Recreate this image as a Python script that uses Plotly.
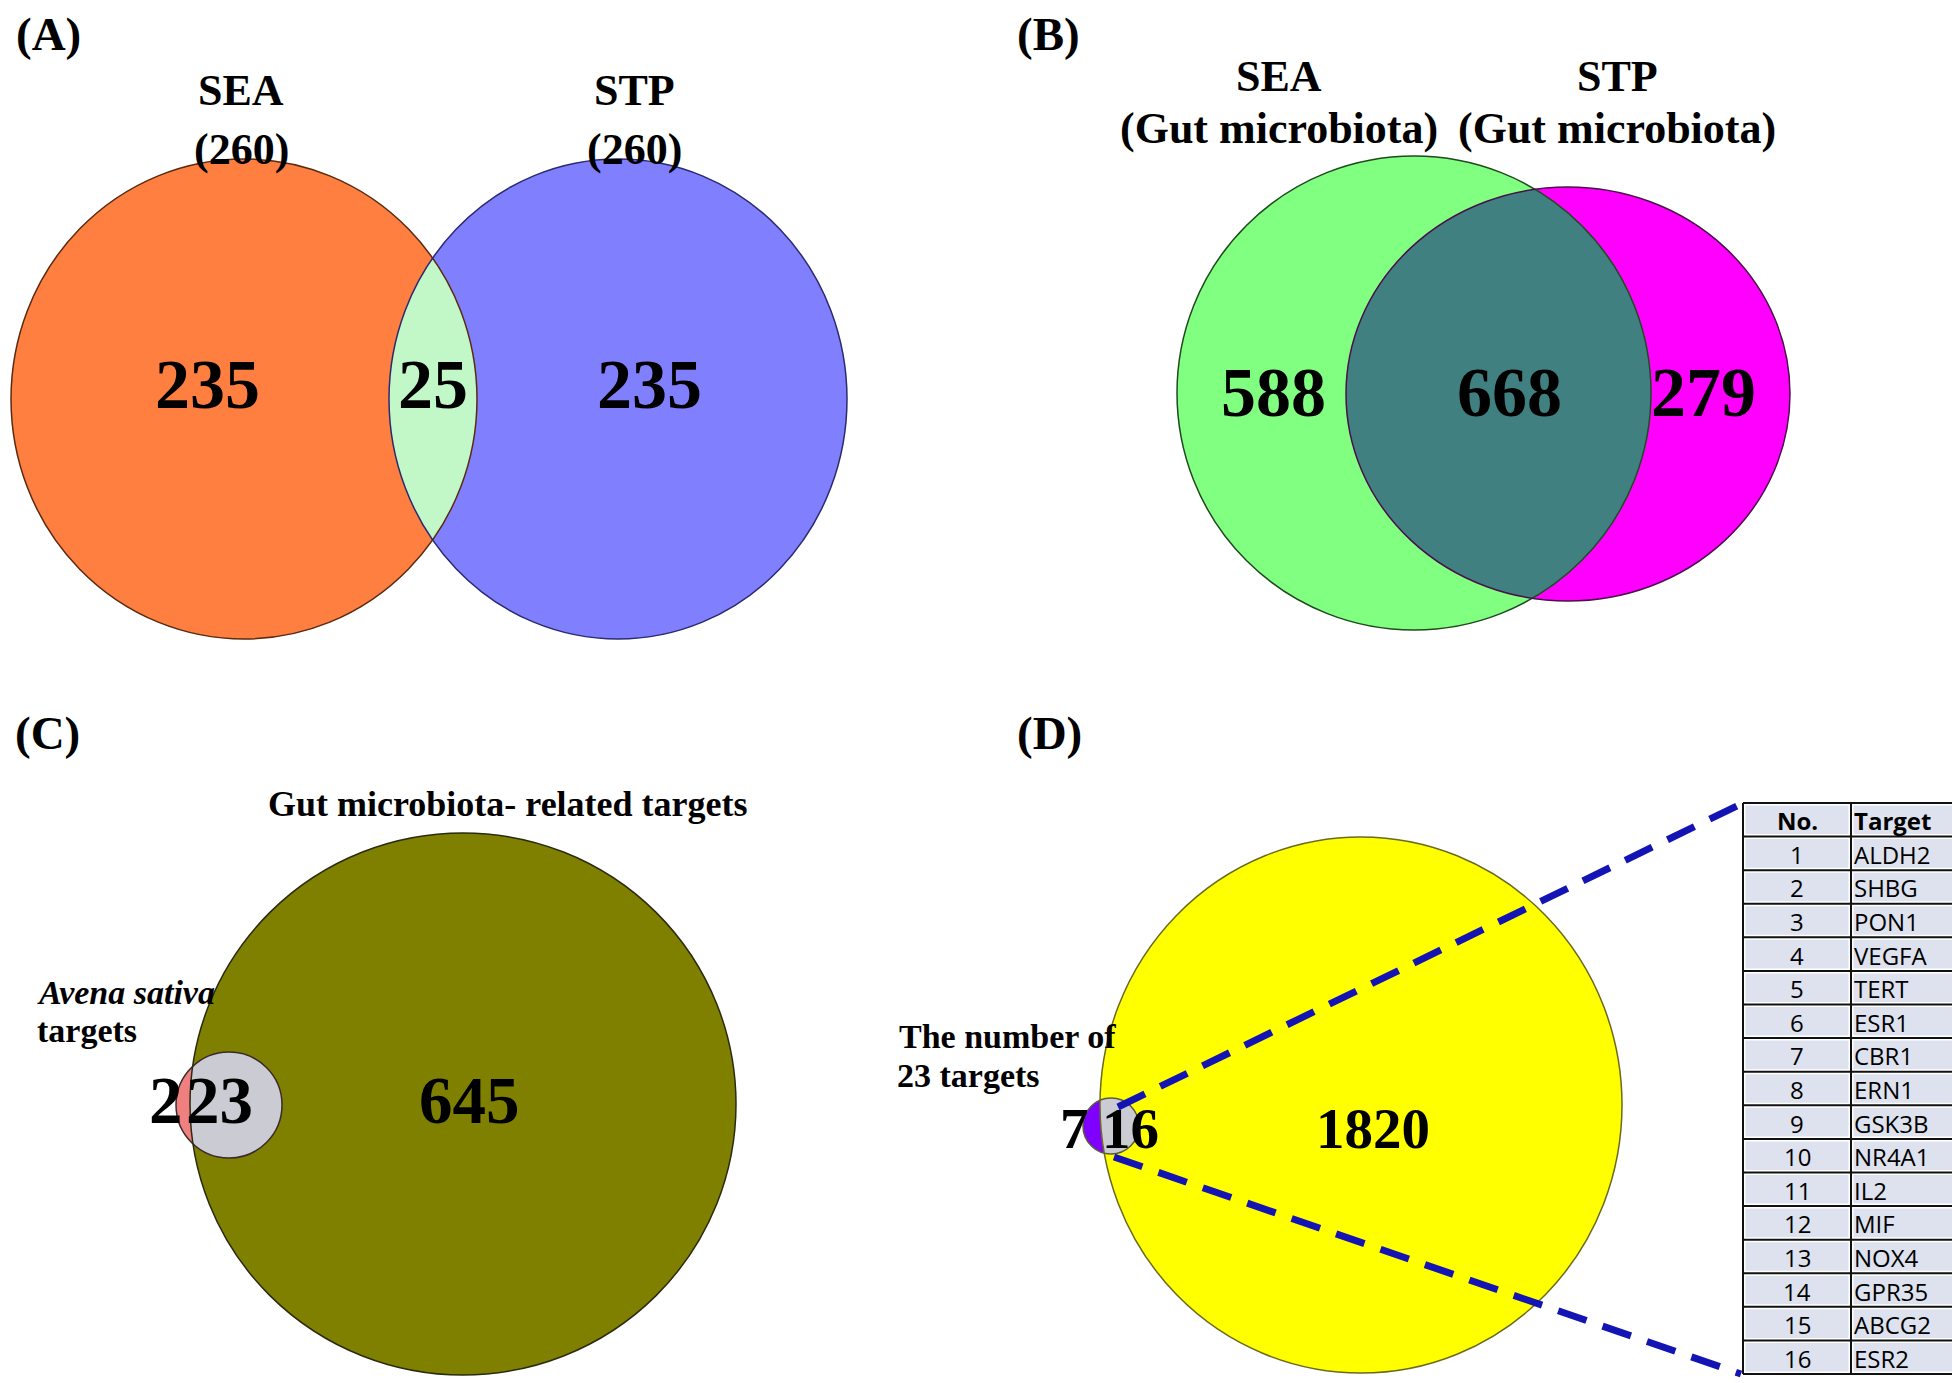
import numpy as np
import plotly.graph_objects as go

W, H = 1960, 1383

# ---------------- data ----------------
panel_letters = ["(A)", "(B)", "(C)", "(D)"]

a_sets = ["SEA", "STP"]
a_totals = [260, 260]
a_counts = [235, 25, 235]          # SEA only, shared, STP only

b_sets = ["SEA", "STP"]
b_sub = "(Gut microbiota)"
b_counts = [588, 668, 279]         # SEA only, shared, STP only

c_small_label = ["Avena sativa", "targets"]
c_big_label = "Gut microbiota- related targets"
c_counts = [2, 23, 645]            # Avena only, shared, gut only

d_label = ["The number of", "23 targets"]
d_counts = [7, 16, 1820]           # only, shared, other

table_header = ["No.", "Target"]
table_no = [1, 2, 3, 4, 5, 6, 7, 8, 9, 10, 11, 12, 13, 14, 15, 16]
table_target = ["ALDH2", "SHBG", "PON1", "VEGFA", "TERT", "ESR1", "CBR1", "ERN1",
                "GSK3B", "NR4A1", "IL2", "MIF", "NOX4", "GPR35", "ABCG2", "ESR2"]

# ---------------- layout geometry (pixels) ----------------
SERIF = "Liberation Serif"
SANS = "Open Sans"

# each set drawn as an ellipse: (cx, cy, rx, ry)
panels = {
    "A": dict(e1=(236, 391, 233, 240), e2=(610, 391, 229, 240),
              col1="#ff7f40", col2="#8080ff", lens="#c2f7c8",
              line1="#5a2a10", line2="#2a2a70",
              num_x=[199, 425, 641], num_y=376, num_size=70),
    "B": dict(e1=(1406, 385, 237, 237), e2=(1560, 386, 222, 207),
              col1="#80ff80", col2="#ff00ff", lens="#408080",
              line1="#1e4a1e", line2="#4a104a",
              num_x=[1265, 1501, 1695], num_y=384, num_size=70),
    "C": dict(e1=(221, 1097, 53, 53), e2=(455, 1096, 273, 271),
              col1="#f07f7f", col2="#808000", lens="#cbcbd3",
              line1="#3a2a2a", line2="#2a2a10",
              num_x=[158, 211, 461], num_y=1092, num_size=67),
    "D": dict(e1=(1103, 1118, 28, 28), e2=(1353, 1097, 261, 268),
              col1="#8000ff", col2="#ffff00", lens="#cbcbd3",
              line1="#5a5a40", line2="#6a6a20",
              num_x=[1066, 1122, 1365], num_y=1120, num_size=57),
}


def ell_pts(e, n=720):
    cx, cy, rx, ry = e
    t = np.linspace(0, 2 * np.pi, n, endpoint=False)
    return cx + rx * np.cos(t), cy + ry * np.sin(t)


def inside(x, y, e):
    cx, cy, rx, ry = e
    return ((x - cx) / rx) ** 2 + ((y - cy) / ry) ** 2 <= 1.0


def lens_path(e1, e2):
    x1, y1 = ell_pts(e1)
    x2, y2 = ell_pts(e2)
    m1 = inside(x1, y1, e2)
    m2 = inside(x2, y2, e1)
    xs = np.concatenate([x1[m1], x2[m2]])
    ys = np.concatenate([y1[m1], y2[m2]])
    mx, my = xs.mean(), ys.mean()
    order = np.argsort(np.arctan2(ys - my, xs - mx))
    xs, ys = xs[order], ys[order]
    pts = [f"{x:.2f},{y:.2f}" for x, y in zip(xs, ys)]
    return "M " + " L ".join(pts) + " Z"


shapes = []
annotations = []


def ellipse(e, fill=None, line=None, width=1.5):
    cx, cy, rx, ry = e
    shapes.append(dict(type="circle", xref="x", yref="y",
                       x0=cx - rx, x1=cx + rx, y0=cy - ry, y1=cy + ry,
                       fillcolor=fill if fill else "rgba(0,0,0,0)",
                       line=dict(color=line if line else "rgba(0,0,0,0)", width=width if line else 0),
                       layer="above"))


def txt(x, y, s, size, xanchor="center", family=SERIF):
    annotations.append(dict(x=x, y=y, xref="x", yref="y", text=s, showarrow=False,
                            font=dict(family=family, size=size, color="black"),
                            xanchor=xanchor, yanchor="middle"))


for key, p in panels.items():
    ellipse(p["e1"], fill=p["col1"])
    ellipse(p["e2"], fill=p["col2"])
    shapes.append(dict(type="path", xref="x", yref="y",
                       path=lens_path(p["e1"], p["e2"]),
                       fillcolor=p["lens"], line=dict(width=0), layer="above"))
    ellipse(p["e1"], line=p["line1"], width=1.5)
    ellipse(p["e2"], line=p["line2"], width=1.5)

# ---------------- table (panel D) ----------------
tx0, tdiv, tx1 = 1735, 1843, 1957
ty0, ty1 = 795, 1366
nrows = len(table_no) + 1
rh = (ty1 - ty0) / nrows
rows = [table_header] + [[str(n), t] for n, t in zip(table_no, table_target)]
for i, (c1v, c2v) in enumerate(rows):
    yt = ty0 + i * rh
    for (xa, xb) in [(tx0, tdiv), (tdiv, tx1)]:
        shapes.append(dict(type="rect", xref="x", yref="y", x0=xa + 1, x1=xb - 1,
                           y0=yt + 1, y1=yt + rh - 1, fillcolor="#dde2ee",
                           line=dict(color="white", width=3), layer="above"))
    bold = (i == 0)
    s1 = f"<b>{c1v}</b>" if bold else c1v
    s2 = f"<b>{c2v}</b>" if bold else c2v
    txt((tx0 + tdiv) / 2, yt + rh / 2 + 1, s1, 24, family=SANS)
    txt(tdiv + 1, yt + rh / 2 + 1, s2, 24, xanchor="left", family=SANS)
for i in range(nrows + 1):
    yl = ty0 + i * rh
    shapes.append(dict(type="line", xref="x", yref="y", x0=tx0, x1=tx1, y0=yl, y1=yl,
                       line=dict(color="#111111", width=2), layer="above"))
for xl in [tx0, tdiv, tx1]:
    shapes.append(dict(type="line", xref="x", yref="y", x0=xl, x1=xl, y0=ty0, y1=ty1,
                       line=dict(color="#111111", width=2), layer="above"))

# dashed connector lines (panel D -> table)
for (x0, y0, x1, y1) in [(1110, 1099, tx0, ty0), (1106, 1149, tx0 - 2, ty1)]:
    shapes.append(dict(type="line", xref="x", yref="y", x0=x0, y0=y0, x1=x1, y1=y1,
                       line=dict(color="#1414b4", width=7, dash="30px,17px"), layer="above"))

# ---------------- texts ----------------
for key, counts in zip(["A", "B", "C", "D"], [a_counts, b_counts, c_counts, d_counts]):
    p = panels[key]
    for x, v in zip(p["num_x"], counts):
        txt(x, p["num_y"], f"<b>{v}</b>", p["num_size"])

for s, (x, y) in zip(panel_letters, [(40, 26), (1040, 26), (39, 725), (1041, 725)]):
    txt(x, y, f"<b>{s}</b>", 47)

for name, tot, x in zip(a_sets, a_totals, [233, 626]):
    txt(x, 82, f"<b>{name}</b>", 44)
    txt(x, 141, f"<b>({tot})</b>", 44)

for name, x in zip(b_sets, [1271, 1609]):
    txt(x, 68, f"<b>{name}</b>", 44)
    txt(x, 120, f"<b>{b_sub}</b>", 44)

txt(500, 796, f"<b>{c_big_label}</b>", 36)
txt(27, 984, f"<b><i>{c_small_label[0]}</i></b>", 34, xanchor="left")
txt(27, 1022, f"<b>{c_small_label[1]}</b>", 34, xanchor="left")

txt(889, 1028, f"<b>{d_label[0]}</b>", 34, xanchor="left")
txt(887, 1067, f"<b>{d_label[1]}</b>", 34, xanchor="left")

fig = go.Figure()
fig.update_layout(
    width=W, height=H,
    margin=dict(l=0, r=0, t=0, b=0),
    paper_bgcolor="white", plot_bgcolor="white",
    xaxis=dict(range=[0, W], visible=False, fixedrange=True, domain=[0, 1]),
    yaxis=dict(range=[H, 0], visible=False, fixedrange=True, domain=[0, 1]),
    shapes=shapes, annotations=annotations, showlegend=False,
)

fig.write_html("out.html")
